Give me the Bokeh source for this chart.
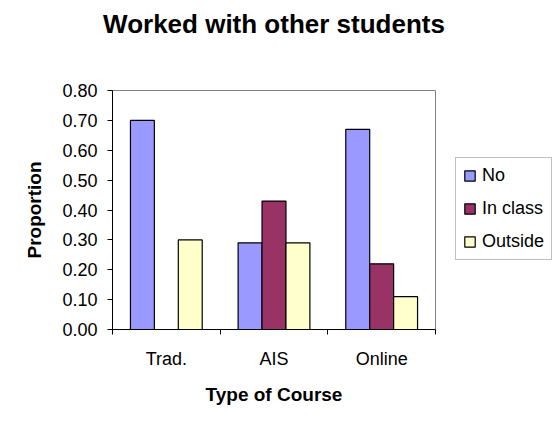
from bokeh.plotting import figure
from bokeh.models import (Range1d, FixedTicker, NumeralTickFormatter, CustomJSTickFormatter,
                          Legend, LegendItem, ColumnDataSource, LinearAxis)
from bokeh.embed import file_html
from bokeh.resources import INLINE
import numpy as np

courses = ["Trad.", "AIS", "Online"]
series_names = ["No", "In class", "Outside"]
no_vals = [0.70, 0.29, 0.67]
inclass_vals = [0.00, 0.43, 0.22]
outside_vals = [0.30, 0.29, 0.11]
series_colors = ["#9999FF", "#993366", "#FFFFCC"]
y_ticks = [0.0, 0.1, 0.2, 0.3, 0.4, 0.5, 0.6, 0.7, 0.8]
chart_title = "Worked with other students"

FONT = "Liberation Sans"

p = figure(frame_width=323, frame_height=239, output_backend="svg", toolbar_location=None,
           x_range=Range1d(0, len(courses)), y_range=Range1d(0, 0.8),
           min_border_left=112, min_border_right=107, min_border_top=90, min_border_bottom=90)

p.xgrid.visible = False
p.ygrid.visible = False
p.outline_line_color = "#808080"
p.outline_line_width = 1

bar_w = 1.0 / 4.5
idx = np.arange(len(courses))
items = []
for j, (name, vals, col) in enumerate(zip(series_names, [no_vals, inclass_vals, outside_vals], series_colors)):
    src = ColumnDataSource(dict(x=idx + 0.5 + (j - 1) * bar_w, top=vals))
    r = p.vbar(x="x", top="top", bottom=0, width=bar_w, source=src,
               fill_color=col, line_color="#000000", line_width=1.2)
    items.append(LegendItem(label=name, renderers=[r]))

# x axis
xa = p.xaxis[0]
xa.ticker = FixedTicker(ticks=list(idx + 0.5), minor_ticks=list(np.arange(len(courses) + 1)))
xa.formatter = CustomJSTickFormatter(args=dict(labels=courses), code="return labels[Math.floor(tick)] || '';")
xa.major_tick_out = 0
xa.major_tick_in = 0
xa.minor_tick_out = 5
xa.minor_tick_in = 0
xa.minor_tick_line_color = "#000000"
xa.axis_line_color = "#000000"
xa.major_label_text_font = FONT
xa.major_label_text_font_size = "18px"
xa.major_label_text_color = "#000000"
xa.major_label_standoff = 14
xa.axis_label = "Type of Course"
xa.axis_label_text_font = FONT
xa.axis_label_text_font_size = "19px"
xa.axis_label_text_font_style = "bold"
xa.axis_label_text_color = "#000000"
xa.axis_label_standoff = 12

ya = p.yaxis[0]
ya.ticker = FixedTicker(ticks=y_ticks, minor_ticks=[])
ya.formatter = NumeralTickFormatter(format="0.00")
ya.major_tick_out = 5
ya.major_tick_in = 0
ya.minor_tick_out = 0
ya.minor_tick_in = 0
ya.axis_line_color = "#000000"
ya.major_tick_line_color = "#000000"
ya.major_label_text_font = FONT
ya.major_label_text_font_size = "18px"
ya.major_label_text_color = "#000000"
ya.major_label_standoff = 10
ya.axis_label = "Proportion"
ya.axis_label_text_font = FONT
ya.axis_label_text_font_size = "19px"
ya.axis_label_text_font_style = "bold"
ya.axis_label_text_color = "#000000"
ya.axis_label_standoff = 14

# chart title carried by a bare top axis
ta = LinearAxis(ticker=FixedTicker(ticks=[], minor_ticks=[]), axis_line_color=None,
                major_tick_out=0, major_tick_in=0, minor_tick_out=0, minor_tick_in=0,
                axis_label=chart_title, axis_label_text_font=FONT, axis_label_text_font_size="26px",
                axis_label_text_font_style="bold", axis_label_text_color="#000000",
                axis_label_standoff=52)
p.add_layout(ta, "above")

legend = Legend(items=items, location=(20, 69), orientation="vertical",
                border_line_color="#808080", border_line_width=1, background_fill_color="#FFFFFF",
                background_fill_alpha=1.0,
                label_text_font=FONT, label_text_font_size="18px", label_text_color="#000000",
                glyph_width=13, glyph_height=13, label_height=21, label_standoff=6,
                spacing=12, padding=7, margin=0)
p.add_layout(legend, "right")

open("out.html", "w").write(file_html(p, INLINE))
